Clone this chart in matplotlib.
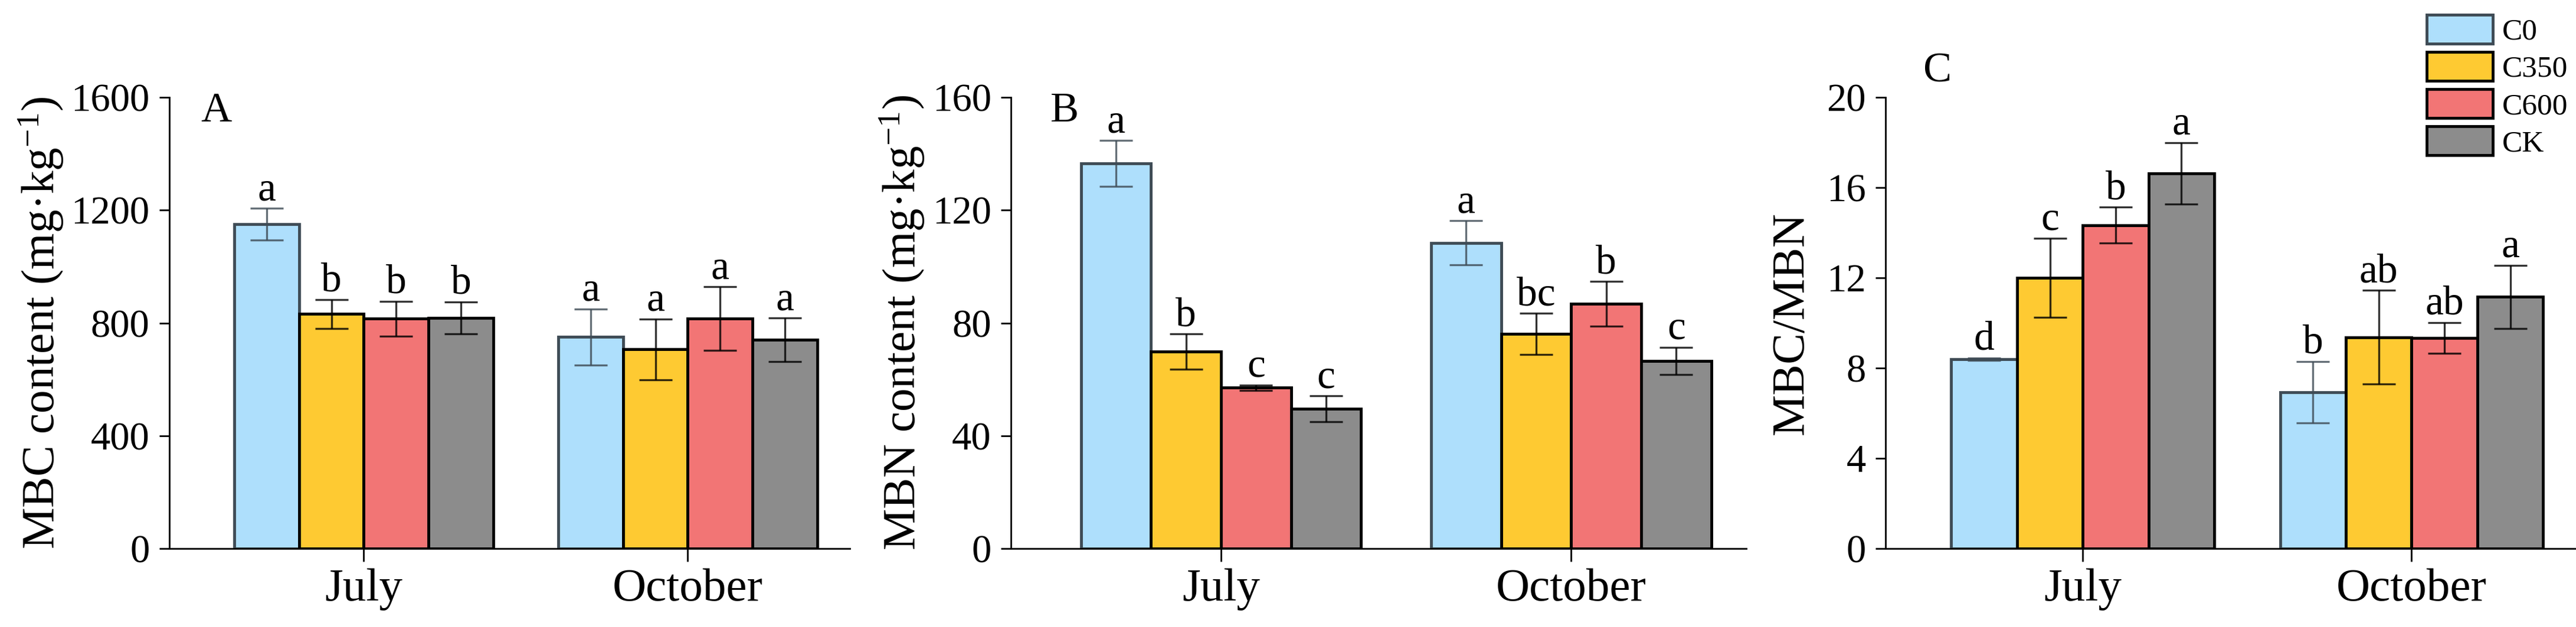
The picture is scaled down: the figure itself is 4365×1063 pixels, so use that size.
import numpy as np
import matplotlib
matplotlib.use("Agg")
import matplotlib.pyplot as plt
from matplotlib.patches import Patch

plt.rcParams['font.family'] = ['Liberation Serif', 'DejaVu Serif']
plt.rcParams['mathtext.fontset'] = 'custom'
plt.rcParams['mathtext.rm'] = 'Liberation Serif'
plt.rcParams['mathtext.it'] = 'Liberation Serif:italic'

# data
months = ["July", "October"]
treatments = ["C0", "C350", "C600", "CK"]
colors = ["#AEDFFC", "#FECA32", "#F27575", "#8C8C8C"]
edges = ["#3E4B55", "black", "black", "black"]

mbc = [[1150, 750], [832, 706], [815, 815], [818, 740]]
mbc_err = [[57, 100], [51, 108], [62, 113], [57, 78]]
mbc_sig = [["a", "a"], ["b", "a"], ["b", "a"], ["b", "a"]]

mbn = [[136.6, 108.4], [69.8, 76.1], [57.0, 86.8], [49.5, 66.6]]
mbn_err = [[8.1, 7.9], [6.3, 7.3], [1.0, 7.9], [4.6, 4.8]]
mbn_sig = [["a", "a"], ["b", "bc"], ["c", "b"], ["c", "c"]]

ratio = [[8.40, 6.94], [12.01, 9.37], [14.33, 9.34], [16.63, 11.16]]
ratio_err = [[0.05, 1.36], [1.75, 2.07], [0.8, 0.68], [1.36, 1.4]]
ratio_sig = [["d", "b"], ["c", "ab"], ["b", "ab"], ["a", "a"]]

W, H = 4365, 1063
fig = plt.figure(figsize=(W / 100, H / 100), dpi=100)

bottom = 1 - 930 / H
height = (930 - 165) / H
axA = fig.add_axes([287 / W, bottom, 1153 / W, height])
axB = fig.add_axes([1713 / W, bottom, 1246 / W, height])
axC = fig.add_axes([3195 / W, bottom, 1170 / W, height])

panels = [
    (axA, mbc, mbc_err, mbc_sig, 1600, 400, "MBC content (mg·kg$^{-1}$)", "A", -0.153, (0.046, 1.012)),
    (axB, mbn, mbn_err, mbn_sig, 160, 40, "MBN content (mg·kg$^{-1}$)", "B", -0.115, (0.054, 1.012)),
    (axC, ratio, ratio_err, ratio_sig, 20, 4, "MBC/MBN", "C", -0.105, (0.055, 1.10)),
]

x = np.arange(len(months))
bw = 0.2
for ax, vals, errs, sigs, ymax, step, ylab, letter, lx, lpos in panels:
    for i in range(len(treatments)):
        pos = x - 0.3 + i * bw
        ax.bar(pos, vals[i], bw, color=colors[i], edgecolor=edges[i], linewidth=3.5,
               yerr=errs[i], capsize=20,
               error_kw=dict(ecolor=edges[i], elinewidth=2.4, capthick=2.4, alpha=0.8))
        for j in range(len(months)):
            ax.annotate(sigs[i][j], (pos[j], vals[i][j] + errs[i][j]), xytext=(0, 10),
                        textcoords="offset points", ha="center", va="baseline", fontsize=50)
    ax.set_xlim(-0.6, 1.5)
    ax.set_ylim(0, ymax)
    ax.set_yticks(np.arange(0, ymax + 1, step))
    ax.set_xticks(x)
    ax.set_xticklabels(months, fontsize=57)
    ax.tick_params(axis="y", labelsize=48, length=12, width=2, pad=12)
    ax.tick_params(axis="x", length=16, width=2, pad=8)
    for s in ["top", "right"]:
        ax.spines[s].set_visible(False)
    for s in ["left", "bottom"]:
        ax.spines[s].set_linewidth(2)
    ax.set_ylabel(ylab, fontsize=57)
    ax.yaxis.set_label_coords(lx, 0.5)
    ax.text(lpos[0], lpos[1], letter, transform=ax.transAxes, fontsize=52, va="top", ha="left")

handles = [Patch(facecolor=colors[i], edgecolor=edges[i], linewidth=3.5) for i in range(4)]
fig.legend(handles, treatments, loc="upper left", bbox_to_anchor=(4112 / W, 1 - 25 / H),
           frameon=False, fontsize=37, borderpad=0, borderaxespad=0,
           handlelength=2.18, handleheight=1.08, labelspacing=0.2, handletextpad=0.3)

fig.savefig("out.png", dpi=100)
